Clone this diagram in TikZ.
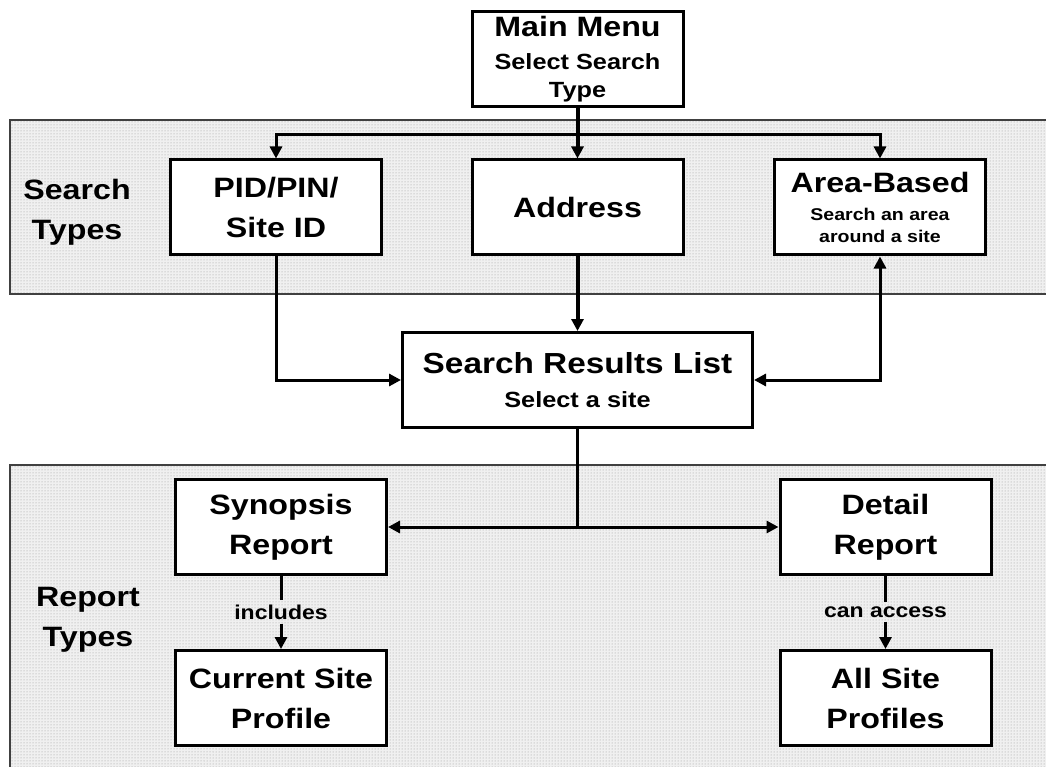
\documentclass[tikz,border=0pt]{standalone}
\usepackage{fontspec}
\setmainfont{Liberation Sans}[FakeStretch=1.15]
\usepackage{tikz}
\usetikzlibrary{arrows.meta,patterns,positioning}

\tikzset{
  box/.style={draw, line width=3pt, fill=white, align=center,
    font=\bfseries\fontsize{28}{40}\selectfont,
    minimum width=211pt, minimum height=95pt, inner sep=2pt},
  tag/.style={align=center, font=\bfseries\fontsize{28}{40}\selectfont},
  note/.style={font=\bfseries\fontsize{20}{24}\selectfont, inner sep=4pt},
  panel/.style={fill=gray!12},
  panelrim/.style={draw=black!75, line width=2pt},
  wire/.style={line width=3pt},
  link/.style={wire, -{Triangle[length=12pt,width=12pt]}},
  twoway/.style={wire, {Triangle[length=12pt,width=12pt]}-{Triangle[length=12pt,width=12pt]}},
}
\newcommand{\medtext}{\fontsize{22}{28}\selectfont}
\newcommand{\smalltext}{\fontsize{17}{20}\selectfont}

\begin{document}
\begin{tikzpicture}[x=1pt,y=-1pt]
\useasboundingbox (0,0) rectangle (1046,767);

% shaded bands
\fill[panel] (10,120) rectangle (1046,294);
\fill[pattern=dots, pattern color=gray!80] (10,120) rectangle (1046,294);
\draw[panelrim] (1046,120) -- (10,120) -- (10,294) -- (1046,294);
\fill[panel] (10,465) rectangle (1046,767);
\fill[pattern=dots, pattern color=gray!80] (10,465) rectangle (1046,767);
\draw[panelrim] (1046,465) -- (10,465) -- (10,767);

\node[tag] (searchtag) at (77,212) {Search\\Types};
\node[tag] (reporttag) at (88,620) {Report\\Types};

% boxes
\node[box] (menu) at (577.5,59) {Main Menu\\[-7pt]{\medtext Select Search}\\[-12pt]{\medtext Type}};
\node[box] (pid) at (276,207.5) {PID/PIN/\\Site ID};
\node[box] (addr) at (577.5,207.5) {Address};
\node[box] (area) at (880,207.5) {Area-Based\\[-12pt]{\smalltext Search an area}\\[-18pt]{\smalltext around a site}};
\node[box, minimum width=350pt] (results) at (577.5,380) {{\fontsize{29}{40}\selectfont Search Results List}\\[-6pt]{\medtext Select a site}};
\node[box] (syn) at (281,527) {Synopsis\\Report};
\node[box] (det) at (885.5,527) {Detail\\Report};
\node[box] (cur) at (281,698) {Current Site\\Profile};
\node[box] (all) at (885.5,698) {All Site\\Profiles};

\node[note] (inc) at (281,612) {includes};
\node[note] (acc) at (885.5,612) {can access};

% connectors
\coordinate (split) at (577.5,135);
\coordinate (fork) at (results.south |- syn.east);
\draw[link, line width=4pt] (menu.south) -- (addr.north);
\draw[link] (split) -| (pid.north);
\draw[link] (split) -| (area.north);
\draw[link] (pid.south) |- (results.west);
\draw[link, line width=4pt] (addr.south) -- (results.north);
\draw[twoway] (area.south) |- (results.east);
\draw[wire] (results.south) -- (fork);
\draw[link] (fork) -- (syn.east);
\draw[link] (fork) -- (det.west);
\draw[wire] (syn.south) -- (inc.north);
\draw[link] (inc.south) -- (cur.north);
\draw[wire] (det.south) -- (acc.north);
\draw[link] (acc.south) -- (all.north);
\end{tikzpicture}
\end{document}
